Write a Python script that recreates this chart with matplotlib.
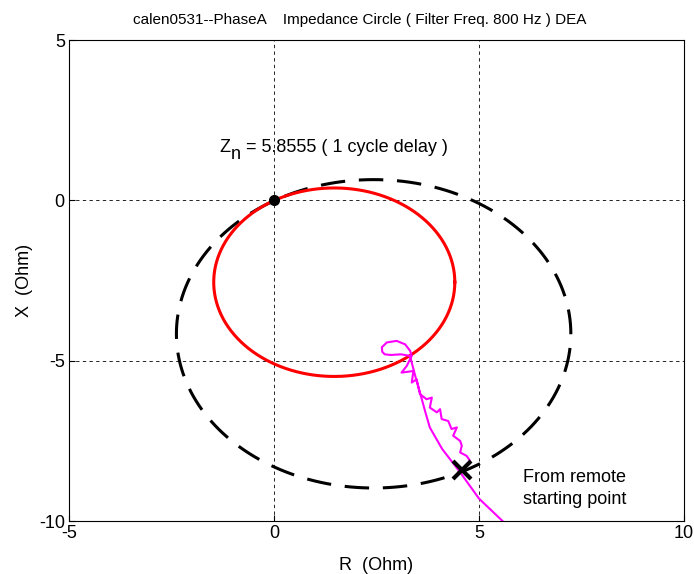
import numpy as np
import matplotlib.pyplot as plt

plt.rcParams['font.family'] = ['Liberation Sans', 'DejaVu Sans']
plt.rcParams['axes.unicode_minus'] = False

# red impedance circle (passes through origin)
red_center = (1.47, -2.55)
red_radius = 2.94

# black dashed circle
blk_center = (2.43, -4.16)
blk_radius = 4.81

# magenta trajectory (R, X)
traj_r = [5.59, 5.00, 4.54, 4.10, 3.80, 3.68, 3.56, 3.45, 3.36, 3.32, 3.10, 2.85, 2.70, 2.64,
          2.63, 2.75, 2.99, 3.20, 3.32, 3.36, 3.30, 3.24, 3.11, 3.40, 3.36, 3.48, 3.56,
          3.72, 3.85, 3.80, 3.97, 4.05, 4.09, 4.25, 4.33, 4.46, 4.37, 4.54, 4.58, 4.54,
          4.70, 4.78, 4.74]
traj_x = [-10.02, -9.30, -8.48, -7.75, -7.08, -6.55, -5.99, -5.50, -5.06, -4.85, -4.80, -4.82, -4.80, -4.72,
          -4.58, -4.43, -4.38, -4.49, -4.69, -4.85, -5.00, -5.16, -5.37, -5.32, -5.68, -5.58, -6.04,
          -6.20, -6.15, -6.46, -6.61, -6.51, -6.82, -6.88, -7.13, -7.08, -7.34, -7.50, -7.65, -7.86,
          -7.97, -8.12, -8.22]

cross_pt = (4.58, -8.42)

fig = plt.figure(figsize=(6.94, 5.74), dpi=100)
ax = fig.add_axes([0.0994, 0.0923, 0.8862, 0.8377])

t = np.linspace(0, 2 * np.pi, 400)
ax.plot(blk_center[0] + blk_radius * np.cos(t), blk_center[1] + blk_radius * np.sin(t),
        color='black', linestyle=(0, (8, 4.5)), linewidth=2.2)
ax.plot(red_center[0] + red_radius * np.cos(t), red_center[1] + red_radius * np.sin(t),
        color='red', linewidth=2.2)
ax.plot(traj_r, traj_x, color='magenta', linewidth=1.5)
ax.plot([0], [0], 'o', color='black', markersize=7)
ax.plot([cross_pt[0]], [cross_pt[1]], 'x', color='black', markersize=13, markeredgewidth=3)

fs = 13
# Z_n label, built from pieces so the subscript stays full size
zx, zy = -1.32, 1.50
ax.text(zx, zy, 'Z', fontsize=fs)
ax.annotate('n', xy=(zx, zy), xytext=(8.2, -5), textcoords='offset points', fontsize=fs)
ax.annotate(' = 5.8555 ( 1 cycle delay )', xy=(zx, zy), xytext=(15.4, 0),
            textcoords='offset points', fontsize=fs)
ax.text(6.07, -8.79, 'From remote', fontsize=fs)
ax.text(6.07, -9.48, 'starting point', fontsize=fs)

ax.set_xlim(-5, 10)
ax.set_ylim(-10, 5)
ax.set_xticks([-5, 0, 5, 10])
ax.set_yticks([-10, -5, 0, 5])
ax.grid(True, color='black', linestyle=(0, (4, 4)), linewidth=0.6)
ax.tick_params(direction='in', labelsize=fs, length=4, pad=3)
ax.set_xlabel('R  (Ohm)', fontsize=fs, labelpad=10.5)
ax.set_ylabel('X  (Ohm)', fontsize=fs, labelpad=4)
ax.set_title('calen0531--PhaseA    Impedance Circle ( Filter Freq. 800 Hz ) DEA',
             fontsize=11, pad=12, x=0.473)

fig.savefig('out.png', dpi=100)
